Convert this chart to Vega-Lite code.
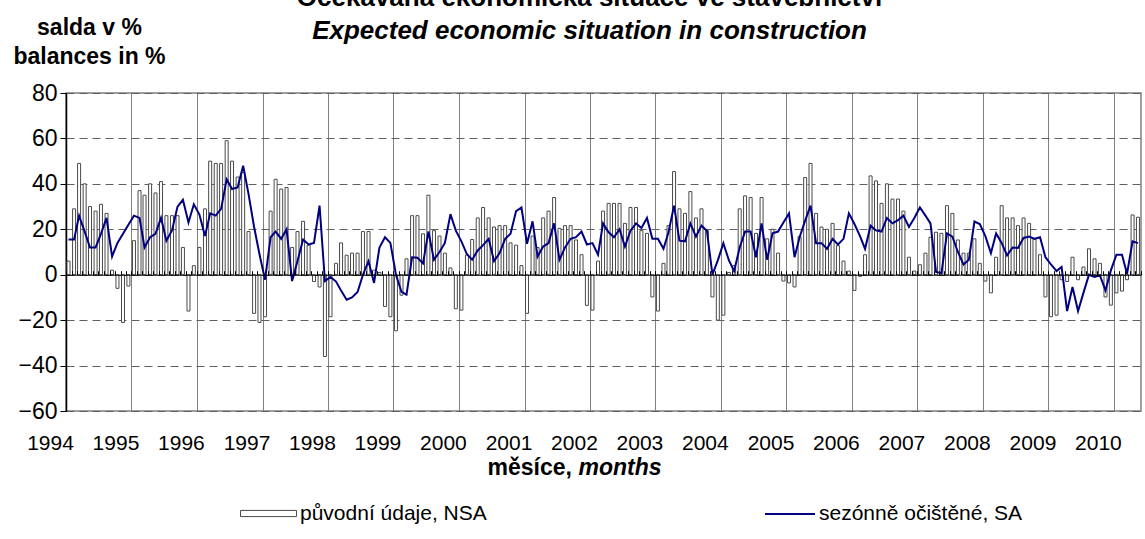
{
  "$schema": "https://vega.github.io/schema/vega-lite/v6.json",
  "width": 1075,
  "height": 318,
  "autosize": {"type": "none"},
  "padding": {"left": 66, "top": 93, "right": 4, "bottom": 128},
  "background": "white",
  "config": {
    "font": "Liberation Sans",
    "view": {"stroke": "#808080", "strokeWidth": 1.5}
  },
  "title": {
    "text": "Očekávaná ekonomická situace ve stavebnictví",
    "subtitle": "Expected economic situation in construction",
    "fontSize": 26,
    "fontWeight": "bold",
    "color": "black",
    "subtitleFontSize": 26,
    "subtitleFontWeight": "bold",
    "subtitleFontStyle": "italic",
    "subtitleColor": "black",
    "subtitlePadding": 7,
    "anchor": "middle",
    "frame": "group",
    "offset": -28,
    "dx": -14
  },
  "data": {
    "values": [
      {"date":"1994-01-15","nsa":6,"sa":15.5},{"date":"1994-02-15","nsa":29,"sa":15.5},{"date":"1994-03-15","nsa":49,"sa":26},{"date":"1994-04-15","nsa":40,"sa":19},{"date":"1994-05-15","nsa":30,"sa":12},{"date":"1994-06-15","nsa":28,"sa":12},{"date":"1994-07-15","nsa":31,"sa":18},{"date":"1994-08-15","nsa":27,"sa":25},{"date":"1994-09-15","nsa":2,"sa":8},{"date":"1994-10-15","nsa":-6,"sa":14},{"date":"1994-11-15","nsa":-21,"sa":18},{"date":"1994-12-15","nsa":-5,"sa":22},
      {"date":"1995-01-15","nsa":15,"sa":26},{"date":"1995-02-15","nsa":37,"sa":25},{"date":"1995-03-15","nsa":35,"sa":12},{"date":"1995-04-15","nsa":40,"sa":16.5},{"date":"1995-05-15","nsa":36,"sa":18},{"date":"1995-06-15","nsa":41,"sa":25},{"date":"1995-07-15","nsa":26,"sa":15},{"date":"1995-08-15","nsa":26,"sa":19.5},{"date":"1995-09-15","nsa":26,"sa":30},{"date":"1995-10-15","nsa":12,"sa":33},{"date":"1995-11-15","nsa":-16,"sa":23},{"date":"1995-12-15","nsa":4,"sa":31},
      {"date":"1996-01-15","nsa":12,"sa":26.5},{"date":"1996-02-15","nsa":29,"sa":17},{"date":"1996-03-15","nsa":50,"sa":27},{"date":"1996-04-15","nsa":49,"sa":26},{"date":"1996-05-15","nsa":49,"sa":29},{"date":"1996-06-15","nsa":59,"sa":42},{"date":"1996-07-15","nsa":50,"sa":37.7},{"date":"1996-08-15","nsa":43,"sa":38.4},{"date":"1996-09-15","nsa":45,"sa":48},{"date":"1996-10-15","nsa":19,"sa":35.5},{"date":"1996-11-15","nsa":-17,"sa":21},{"date":"1996-12-15","nsa":-21,"sa":9},
      {"date":"1997-01-15","nsa":-18.5,"sa":-2.2},{"date":"1997-02-15","nsa":28,"sa":16.5},{"date":"1997-03-15","nsa":42,"sa":19},{"date":"1997-04-15","nsa":37.7,"sa":15.8},{"date":"1997-05-15","nsa":38.4,"sa":20},{"date":"1997-06-15","nsa":12,"sa":-2.8},{"date":"1997-07-15","nsa":19,"sa":6},{"date":"1997-08-15","nsa":23.5,"sa":15.5},{"date":"1997-09-15","nsa":13,"sa":13.3},{"date":"1997-10-15","nsa":-3,"sa":14},{"date":"1997-11-15","nsa":-5.4,"sa":30.4},{"date":"1997-12-15","nsa":-36,"sa":-2.8},
      {"date":"1998-01-15","nsa":-18.5,"sa":-1},{"date":"1998-02-15","nsa":5,"sa":-3},{"date":"1998-03-15","nsa":14,"sa":-7},{"date":"1998-04-15","nsa":8.6,"sa":-11},{"date":"1998-05-15","nsa":9.5,"sa":-10},{"date":"1998-06-15","nsa":9.5,"sa":-7.6},{"date":"1998-07-15","nsa":19,"sa":0},{"date":"1998-08-15","nsa":19,"sa":6},{"date":"1998-09-15","nsa":2,"sa":-3.6},{"date":"1998-10-15","nsa":1,"sa":12},{"date":"1998-11-15","nsa":-14,"sa":16.5},{"date":"1998-12-15","nsa":-18.5,"sa":14},
      {"date":"1999-01-15","nsa":-24.7,"sa":0},{"date":"1999-02-15","nsa":-9,"sa":-7.5},{"date":"1999-03-15","nsa":7,"sa":-8.8},{"date":"1999-04-15","nsa":26,"sa":7.7},{"date":"1999-05-15","nsa":26,"sa":7.5},{"date":"1999-06-15","nsa":18,"sa":5},{"date":"1999-07-15","nsa":35,"sa":19},{"date":"1999-08-15","nsa":19.4,"sa":6.6},{"date":"1999-09-15","nsa":17,"sa":10},{"date":"1999-10-15","nsa":9.5,"sa":14},{"date":"1999-11-15","nsa":3,"sa":26.7},{"date":"1999-12-15","nsa":-15,"sa":19.4},
      {"date":"2000-01-15","nsa":-15.6,"sa":14.7},{"date":"2000-02-15","nsa":8.7,"sa":9},{"date":"2000-03-15","nsa":15.5,"sa":6.6},{"date":"2000-04-15","nsa":25,"sa":10.7},{"date":"2000-05-15","nsa":29.6,"sa":13},{"date":"2000-06-15","nsa":25,"sa":15.8},{"date":"2000-07-15","nsa":21,"sa":6},{"date":"2000-08-15","nsa":21.6,"sa":9.5},{"date":"2000-09-15","nsa":21.6,"sa":15.8},{"date":"2000-10-15","nsa":14,"sa":18},{"date":"2000-11-15","nsa":13,"sa":28},{"date":"2000-12-15","nsa":4,"sa":29.6},
      {"date":"2001-01-15","nsa":-17,"sa":13.6},{"date":"2001-02-15","nsa":17,"sa":23.5},{"date":"2001-03-15","nsa":12,"sa":8},{"date":"2001-04-15","nsa":25,"sa":12.4},{"date":"2001-05-15","nsa":28,"sa":13.9},{"date":"2001-06-15","nsa":34,"sa":22.6},{"date":"2001-07-15","nsa":20.4,"sa":6.6},{"date":"2001-08-15","nsa":21.6,"sa":12},{"date":"2001-09-15","nsa":21.6,"sa":15.8},{"date":"2001-10-15","nsa":15.3,"sa":16.5},{"date":"2001-11-15","nsa":8.8,"sa":19},{"date":"2001-12-15","nsa":-13.5,"sa":13.3},
      {"date":"2002-01-15","nsa":-15.6,"sa":13.9},{"date":"2002-02-15","nsa":6,"sa":8.8},{"date":"2002-03-15","nsa":28,"sa":22.6},{"date":"2002-04-15","nsa":31.4,"sa":18.7},{"date":"2002-05-15","nsa":31.4,"sa":16.5},{"date":"2002-06-15","nsa":31.4,"sa":20},{"date":"2002-07-15","nsa":22.6,"sa":12.4},{"date":"2002-08-15","nsa":29.6,"sa":19.4},{"date":"2002-09-15","nsa":29.6,"sa":22.6},{"date":"2002-10-15","nsa":19.4,"sa":20.6},{"date":"2002-11-15","nsa":18.2,"sa":25},{"date":"2002-12-15","nsa":-9.8,"sa":15.8},
      {"date":"2003-01-15","nsa":-16,"sa":15.8},{"date":"2003-02-15","nsa":5,"sa":11.4},{"date":"2003-03-15","nsa":21.6,"sa":18.7},{"date":"2003-04-15","nsa":45.4,"sa":30.4},{"date":"2003-05-15","nsa":29,"sa":15},{"date":"2003-06-15","nsa":27,"sa":14.7},{"date":"2003-07-15","nsa":36.6,"sa":22.6},{"date":"2003-08-15","nsa":25,"sa":16.8},{"date":"2003-09-15","nsa":29,"sa":21.6},{"date":"2003-10-15","nsa":19.4,"sa":19.4},{"date":"2003-11-15","nsa":-9.8,"sa":0},{"date":"2003-12-15","nsa":-20,"sa":6.3},
      {"date":"2004-01-15","nsa":-17.8,"sa":13.9},{"date":"2004-02-15","nsa":1,"sa":6.3},{"date":"2004-03-15","nsa":4,"sa":1.6},{"date":"2004-04-15","nsa":29,"sa":12},{"date":"2004-05-15","nsa":34.7,"sa":19},{"date":"2004-06-15","nsa":34,"sa":19},{"date":"2004-07-15","nsa":18.2,"sa":7.7},{"date":"2004-08-15","nsa":34,"sa":22.6},{"date":"2004-09-15","nsa":15.8,"sa":6.6},{"date":"2004-10-15","nsa":20,"sa":18.2},{"date":"2004-11-15","nsa":9.5,"sa":19},{"date":"2004-12-15","nsa":-2.8,"sa":23},
      {"date":"2005-01-15","nsa":-3.6,"sa":27},{"date":"2005-02-15","nsa":-5.4,"sa":7.7},{"date":"2005-03-15","nsa":16.8,"sa":16.5},{"date":"2005-04-15","nsa":42.8,"sa":23.8},{"date":"2005-05-15","nsa":49,"sa":30.4},{"date":"2005-06-15","nsa":27,"sa":13.9},{"date":"2005-07-15","nsa":21,"sa":13.9},{"date":"2005-08-15","nsa":20,"sa":11.4},{"date":"2005-09-15","nsa":22.6,"sa":15.8},{"date":"2005-10-15","nsa":12.8,"sa":13.3},{"date":"2005-11-15","nsa":6,"sa":15.8},{"date":"2005-12-15","nsa":1.6,"sa":27},
      {"date":"2006-01-15","nsa":-6.9,"sa":22.3},{"date":"2006-02-15","nsa":-0.7,"sa":17},{"date":"2006-03-15","nsa":8.8,"sa":11.4},{"date":"2006-04-15","nsa":43.5,"sa":21.6},{"date":"2006-05-15","nsa":41.3,"sa":19.5},{"date":"2006-06-15","nsa":31.4,"sa":19},{"date":"2006-07-15","nsa":40,"sa":25},{"date":"2006-08-15","nsa":33.3,"sa":22.6},{"date":"2006-09-15","nsa":33.3,"sa":24},{"date":"2006-10-15","nsa":28,"sa":26},{"date":"2006-11-15","nsa":7.7,"sa":21},{"date":"2006-12-15","nsa":1.6,"sa":25},
      {"date":"2007-01-15","nsa":4.4,"sa":29.6},{"date":"2007-02-15","nsa":9.5,"sa":26},{"date":"2007-03-15","nsa":16.5,"sa":22.6},{"date":"2007-04-15","nsa":18.7,"sa":1.2},{"date":"2007-05-15","nsa":18.2,"sa":0.7},{"date":"2007-06-15","nsa":30.4,"sa":18.2},{"date":"2007-07-15","nsa":27,"sa":16.8},{"date":"2007-08-15","nsa":15.3,"sa":10},{"date":"2007-09-15","nsa":9.5,"sa":4.5},{"date":"2007-10-15","nsa":9.5,"sa":6.6},{"date":"2007-11-15","nsa":15.8,"sa":23.4},{"date":"2007-12-15","nsa":5,"sa":22.3},
      {"date":"2008-01-15","nsa":-2.8,"sa":17},{"date":"2008-02-15","nsa":-8,"sa":9.5},{"date":"2008-03-15","nsa":7.7,"sa":18.2},{"date":"2008-04-15","nsa":30.4,"sa":14},{"date":"2008-05-15","nsa":25,"sa":8.5},{"date":"2008-06-15","nsa":25,"sa":12},{"date":"2008-07-15","nsa":21.6,"sa":11.8},{"date":"2008-08-15","nsa":25,"sa":16.2},{"date":"2008-09-15","nsa":22.6,"sa":16.8},{"date":"2008-10-15","nsa":16,"sa":15.8},{"date":"2008-11-15","nsa":8.8,"sa":16.5},{"date":"2008-12-15","nsa":-9.8,"sa":7.7},
      {"date":"2009-01-15","nsa":-18.5,"sa":4.5},{"date":"2009-02-15","nsa":-17.8,"sa":1.6},{"date":"2009-03-15","nsa":-2.2,"sa":3.4},{"date":"2009-04-15","nsa":-3,"sa":-16},{"date":"2009-05-15","nsa":7.7,"sa":-5.4},{"date":"2009-06-15","nsa":-2.2,"sa":-16},{"date":"2009-07-15","nsa":3.4,"sa":-8},{"date":"2009-08-15","nsa":11.4,"sa":0},{"date":"2009-09-15","nsa":7,"sa":-1},{"date":"2009-10-15","nsa":5,"sa":-0.3},{"date":"2009-11-15","nsa":-9.8,"sa":-6.9},{"date":"2009-12-15","nsa":-13.4,"sa":1.9},
      {"date":"2010-01-15","nsa":-8,"sa":8.8},{"date":"2010-02-15","nsa":-7.2,"sa":8.8},{"date":"2010-03-15","nsa":-2.2,"sa":0.4},{"date":"2010-04-15","nsa":26.3,"sa":14.7},{"date":"2010-05-15","nsa":25.3,"sa":13.9}
    ]
  },
  "layer": [
    {
      "mark": {"type": "bar", "width": 3, "stroke": "#4a4a4a", "strokeWidth": 1},
      "encoding": {
        "x": {
          "field": "date",
          "type": "temporal",
          "scale": {"type": "utc", "padding": 0, "domain": [{"year": 1994, "month": 1, "date": 1, "utc": true}, {"year": 2010, "month": 6, "date": 1, "utc": true}]},
          "axis": {
            "orient": "bottom",
            "values": [
              {"year": 1994, "month": 1, "date": 1, "utc": true},{"year": 1995, "month": 1, "date": 1, "utc": true},{"year": 1996, "month": 1, "date": 1, "utc": true},{"year": 1997, "month": 1, "date": 1, "utc": true},{"year": 1998, "month": 1, "date": 1, "utc": true},{"year": 1999, "month": 1, "date": 1, "utc": true},{"year": 2000, "month": 1, "date": 1, "utc": true},{"year": 2001, "month": 1, "date": 1, "utc": true},{"year": 2002, "month": 1, "date": 1, "utc": true},{"year": 2003, "month": 1, "date": 1, "utc": true},{"year": 2004, "month": 1, "date": 1, "utc": true},{"year": 2005, "month": 1, "date": 1, "utc": true},{"year": 2006, "month": 1, "date": 1, "utc": true},{"year": 2007, "month": 1, "date": 1, "utc": true},{"year": 2008, "month": 1, "date": 1, "utc": true},{"year": 2009, "month": 1, "date": 1, "utc": true},{"year": 2010, "month": 1, "date": 1, "utc": true}
            ],
            "format": "%Y",
            "labelFontSize": 21,
            "labelColor": "black",
            "labelPadding": 21,
            "labelFlush": false,
            "labelOverlap": false,
            "labelOffset": -16,
            "ticks": false,
            "domain": false,
            "grid": true,
            "gridColor": "#808080",
            "gridWidth": 1,
            "title": "měsíce,",
            "titleFontSize": 23,
            "titleFontWeight": "bold",
            "titleColor": "black",
            "titleAlign": "left",
            "titleBaseline": "alphabetic",
            "titleX": 421,
            "titleY": 63
          }
        },
        "y": {
          "field": "nsa",
          "type": "quantitative",
          "scale": {"domain": [-60, 80], "nice": false, "zero": false},
          "axis": {
            "orient": "left",
            "values": [-60, -40, -20, 0, 20, 40, 60, 80],
            "labelFontSize": 23,
            "labelColor": "black",
            "labelPadding": 3,
            "tickSize": 6,
            "tickColor": "#000000",
            "domainColor": "#000000",
            "domainWidth": 1.5,
            "grid": true,
            "gridColor": "#606060",
            "gridDash": [8, 5],
            "gridWidth": 1,
            "title": ["salda v %", "balances in %"],
            "titleAngle": 0,
            "titleAlign": "center",
            "titleBaseline": "alphabetic",
            "titleX": 23,
            "titleY": -59,
            "titleFontSize": 23,
            "titleFontWeight": "bold",
            "titleLineHeight": 29,
            "titleColor": "black"
          }
        },
        "fill": {
          "datum": "původní údaje, NSA",
          "scale": {"range": ["#ffffff"]},
          "legend": {
            "orient": "none",
            "legendX": 174,
            "legendY": 392,
            "title": null,
            "padding": 0,
            "symbolType": "M-1,-0.11H1V0.11H-1Z",
            "symbolSize": 3136,
            "symbolStrokeColor": "#4a4a4a",
            "symbolStrokeWidth": 1,
            "labelFontSize": 21,
            "labelLimit": 500,
            "labelColor": "black",
            "labelOffset": 3
          }
        }
      }
    },
    {
      "mark": {"type": "line", "strokeWidth": 2},
      "encoding": {
        "x": {
          "field": "date",
          "type": "temporal",
          "scale": {"type": "utc", "padding": 0, "domain": [{"year": 1994, "month": 1, "date": 1, "utc": true}, {"year": 2010, "month": 6, "date": 1, "utc": true}]},
          "axis": {
            "orient": "top",
            "offset": -181.71,
            "tickCount": {"interval": "month", "step": 1},
            "labels": false,
            "grid": false,
            "ticks": true,
            "tickSize": 4,
            "tickColor": "#000000",
            "domainColor": "#000000",
            "domainWidth": 1,
            "zindex": 1,
            "title": "months",
            "titleFontSize": 23,
            "titleFontWeight": "bold",
            "titleFontStyle": "italic",
            "titleColor": "black",
            "titleAlign": "left",
            "titleBaseline": "alphabetic",
            "titleX": 512,
            "titleY": 200
          }
        },
        "y": {
          "field": "sa",
          "type": "quantitative",
          "scale": {"domain": [-60, 80], "nice": false, "zero": false}
        },
        "stroke": {
          "datum": "sezónně očištěné, SA",
          "scale": {"range": ["#000080"]},
          "legend": {
            "orient": "none",
            "legendX": 698,
            "legendY": 395,
            "title": null,
            "padding": 0,
            "symbolType": "stroke",
            "symbolSize": 2500,
            "symbolStrokeWidth": 2,
            "labelFontSize": 21,
            "labelLimit": 500,
            "labelColor": "black",
            "labelOffset": 3
          }
        }
      }
    }
  ],
  "resolve": {"axis": {"x": "independent"}}
}
